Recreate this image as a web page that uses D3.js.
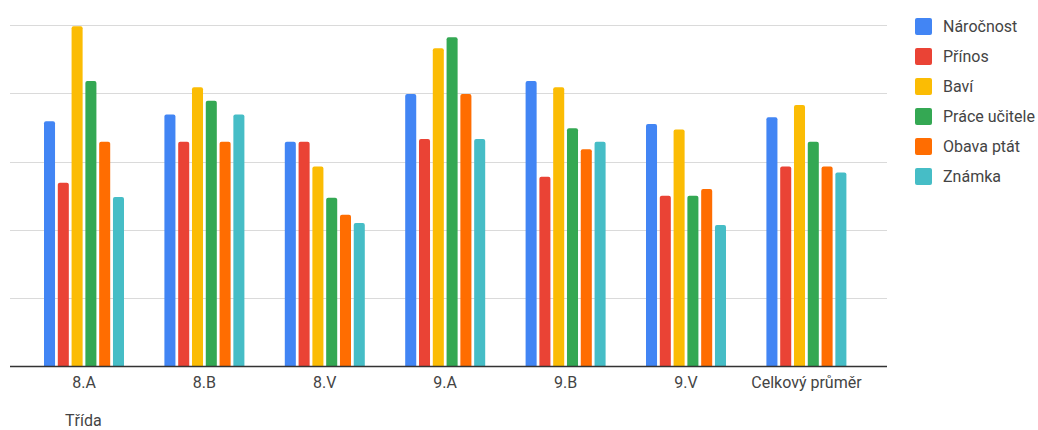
<!DOCTYPE html>
<html>
<head>
<meta charset="utf-8">
<script src="https://cdn.jsdelivr.net/npm/d3@7"></script>
<style>
  body { margin: 0; background: #fff; }
  text { font-family: Roboto, "Liberation Sans", Arial, sans-serif; }
</style>
</head>
<body>
<div id="chart"></div>
<script>
// categories and series
const classes = ["8.A", "8.B", "8.V", "9.A", "9.B", "9.V", "Celkový průměr"];
const seriesNames = ["Náročnost", "Přínos", "Baví", "Práce učitele", "Obava ptát", "Známka"];
const seriesColors = ["#4285F4", "#EA4335", "#FBBC04", "#34A853", "#FF6D01", "#46BDC6"];

const narocnost = [3.59, 3.69, 3.29, 3.99, 4.18, 3.55, 3.65];
const prinos = [2.69, 3.29, 3.29, 3.33, 2.78, 2.50, 2.93];
const bavi = [4.98, 4.09, 2.93, 4.66, 4.09, 3.47, 3.83];
const praceUcitele = [4.18, 3.89, 2.47, 4.82, 3.49, 2.50, 3.29];
const obavaPtat = [3.29, 3.29, 2.22, 3.99, 3.18, 2.60, 2.93];
const znamka = [2.48, 3.69, 2.10, 3.33, 3.29, 2.07, 2.84];
const seriesValues = [narocnost, prinos, bavi, praceUcitele, obavaPtat, znamka];

const yTicks = [0, 1, 2, 3, 4, 5];

const W = 1038, H = 430;
const plotLeft = 10, plotRight = 887;
const plotTop = 25, plotBottom = 366.5;

const svg = d3.select("#chart").append("svg")
  .attr("width", W).attr("height", H);

// scales
const x = d3.scaleBand().domain(classes).range([23.8, 866.6]);
const xInner = d3.scaleBand().domain(seriesNames)
  .range([x.bandwidth() / 2 - 40, x.bandwidth() / 2 + 40])
  .paddingInner(0.2);
const y = d3.scaleLinear().domain([0, 5]).range([plotBottom, plotTop]);

// gridlines
svg.append("g")
  .selectAll("line")
  .data(yTicks.filter(d => d > 0))
  .join("line")
  .attr("x1", plotLeft).attr("x2", plotRight)
  .attr("y1", d => Math.round(y(d)) + 0.5).attr("y2", d => Math.round(y(d)) + 0.5)
  .attr("stroke", "#dadada").attr("stroke-width", 1);

// bars
const rows = [];
classes.forEach((c, i) => {
  seriesNames.forEach((s, j) => {
    rows.push({ cls: c, name: s, value: seriesValues[j][i], color: seriesColors[j] });
  });
});

const r = 2;
svg.append("g")
  .selectAll("path")
  .data(rows)
  .join("path")
  .attr("fill", d => d.color)
  .attr("d", d => {
    const x0 = x(d.cls) + xInner(d.name), w = xInner.bandwidth();
    const top = y(d.value), bot = y(0);
    return `M${x0},${bot} V${top + r} Q${x0},${top} ${x0 + r},${top} H${x0 + w - r} Q${x0 + w},${top} ${x0 + w},${top + r} V${bot} Z`;
  });

// baseline
svg.append("line")
  .attr("x1", plotLeft).attr("x2", plotRight)
  .attr("y1", y(0)).attr("y2", y(0))
  .attr("stroke", "#333").attr("stroke-width", 1.3);

// x axis labels
const xAxis = svg.append("g")
  .attr("transform", `translate(0,${y(0)})`)
  .call(d3.axisBottom(x).tickSize(0).tickPadding(10));
xAxis.select(".domain").remove();
xAxis.selectAll("text")
  .attr("font-size", 16)
  .attr("fill", "#444")
  .style("font-family", "Roboto, 'Liberation Sans', Arial, sans-serif");

// axis title
svg.append("text")
  .attr("x", 65).attr("y", 426)
  .attr("font-size", 16).attr("fill", "#444")
  .text("Třída");

// legend
const legend = svg.append("g")
  .selectAll("g")
  .data(seriesNames)
  .join("g")
  .attr("transform", (d, i) => `translate(915,${18 + i * 30})`);
legend.append("rect")
  .attr("width", 17).attr("height", 17).attr("rx", 2)
  .attr("fill", (d, i) => seriesColors[i]);
legend.append("text")
  .attr("x", 28).attr("y", 14)
  .attr("font-size", 16).attr("fill", "#444")
  .text(d => d);
</script>
</body>
</html>
